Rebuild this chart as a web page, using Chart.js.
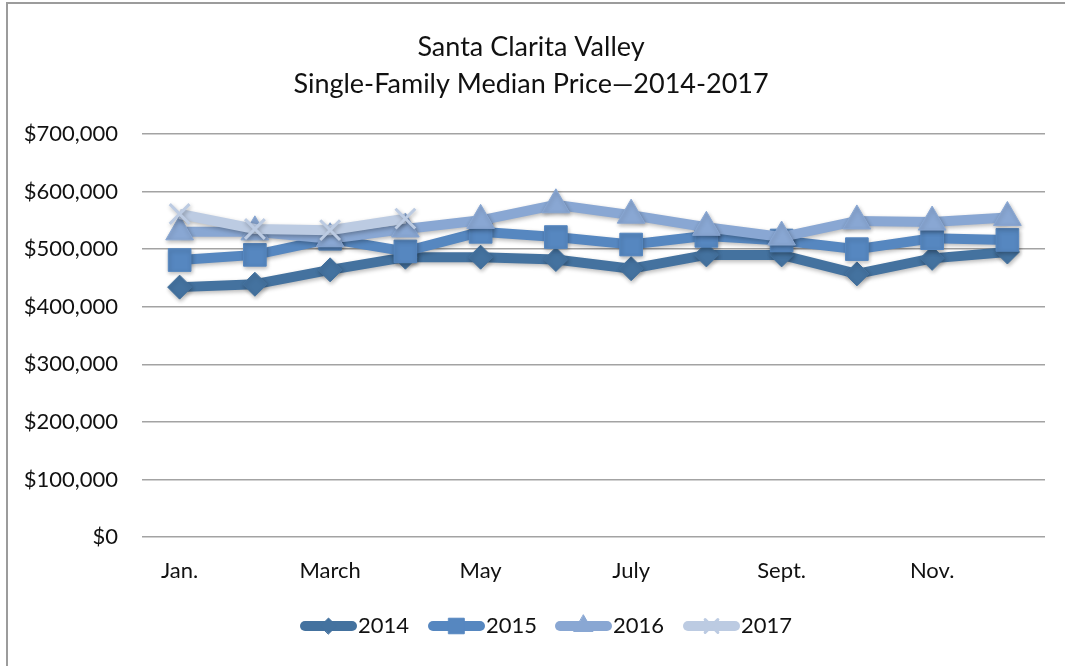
<!DOCTYPE html>
<html lang="en">
<head>
  <meta charset="UTF-8">
  <title>Santa Clarita Valley Single-Family Median Price</title>
  <script src="https://cdn.jsdelivr.net/npm/chart.js"></script>
  <style>
    html, body {
      margin: 0;
      padding: 0;
      overflow: hidden;
      background: #fff;
    }
    .frame {
      position: absolute;
      left: 6px;
      top: 2px;
      width: 1120px;
      height: 720px;
      border: 2px solid #9c9c9c;
    }
    .chart-container {
      position: absolute;
      left: 0;
      top: 0;
      width: 1065px;
      height: 666px;
    }
  </style>
</head>
<body>
  <div class="frame"></div>
  <div class="chart-container">
    <canvas id="priceChart" width="1065" height="666"></canvas>
  </div>

  <script>
    // months on the category axis
    const months = ['Jan.', 'Feb.', 'March', 'April', 'May', 'June', 'July', 'Aug.', 'Sept.', 'Oct.', 'Nov.', 'Dec.'];

    // median price per month, by year
    const years = ['2014', '2015', '2016', '2017'];
    const price2014 = [434000, 439000, 464000, 486000, 486000, 482000, 466000, 490000, 490000, 457000, 484000, 495000];
    const price2015 = [481000, 490000, 518000, 496000, 530000, 521000, 508000, 523000, 515000, 500000, 519000, 516000];
    const price2016 = [530000, 530000, 518000, 535000, 550000, 577000, 559000, 538000, 521000, 549000, 547000, 555000];
    const price2017 = [561000, 535000, 533000, 553000];

    const yTicks = [0, 100000, 200000, 300000, 400000, 500000, 600000, 700000];

    const colors = ['#44729f', '#5687c0', '#89a7d3', '#bccbe2'];
    const markers = ['rectRot', 'rect', 'triangle', 'crossRot'];
    const markerSize = [12, 16, 16, 14];
    const legendMarkerSize = [8, 11, 11, 9];

    const FONT = 'Lato, "Open Sans", sans-serif';

    function money(v) {
      return '$' + v.toLocaleString('en-US');
    }

    // soft drop shadow under each series
    const shadowPlugin = {
      id: 'seriesShadow',
      beforeDatasetDraw(chart) {
        const ctx = chart.ctx;
        ctx.save();
        ctx.shadowColor = 'rgba(0, 0, 0, 0.28)';
        ctx.shadowBlur = 4;
        ctx.shadowOffsetX = 1;
        ctx.shadowOffsetY = 2;
      },
      afterDatasetDraw(chart) {
        chart.ctx.restore();
      }
    };

    // legend drawn as a thick line sample with the series marker on it
    const lineLegend = {
      id: 'lineLegend',
      afterDraw(chart) {
        const ctx = chart.ctx;
        const startX = [300, 428, 555, 683];
        const y = 626;
        ctx.save();
        chart.data.datasets.forEach((ds, i) => {
          const x0 = startX[i];
          const x1 = x0 + 57;
          ctx.strokeStyle = ds.borderColor;
          ctx.lineWidth = 10;
          ctx.lineCap = 'round';
          ctx.beginPath();
          ctx.moveTo(x0 + 5, y);
          ctx.lineTo(x1 - 5, y);
          ctx.stroke();
          ctx.fillStyle = ds.pointBackgroundColor;
          ctx.strokeStyle = ds.pointBorderColor;
          ctx.lineWidth = ds.pointBorderWidth;
          Chart.helpers.drawPoint(ctx, {
            pointStyle: ds.pointStyle,
            radius: legendMarkerSize[i],
            rotation: 0,
            borderWidth: ds.pointBorderWidth
          }, (x0 + x1) / 2, y);
          ctx.fillStyle = '#111';
          ctx.font = '22px ' + FONT;
          ctx.textAlign = 'left';
          ctx.textBaseline = 'middle';
          ctx.fillText(ds.label, x1 + 1, y);
        });
        ctx.restore();
      }
    };

    const series = [price2014, price2015, price2016, price2017];

    const datasets = series.map((data, i) => ({
      label: years[i],
      data: data,
      borderColor: colors[i],
      backgroundColor: colors[i],
      borderWidth: 10,
      tension: 0,
      pointStyle: markers[i],
      pointRadius: markerSize[i],
      pointHoverRadius: markerSize[i],
      pointBackgroundColor: colors[i],
      pointBorderColor: colors[i],
      pointBorderWidth: i === 3 ? 3 : 1,
      order: 4 - i,
      fill: false
    }));

    const ctx = document.getElementById('priceChart').getContext('2d');
    new Chart(ctx, {
      type: 'line',
      data: {
        labels: months,
        datasets: datasets
      },
      options: {
        responsive: false,
        animation: false,
        layout: {
          padding: { left: 17, right: 20, top: 29, bottom: 0 }
        },
        plugins: {
          legend: { display: false },
          tooltip: { enabled: false },
          title: {
            display: true,
            text: ['Santa Clarita Valley', 'Single-Family Median Price\u20142014-2017'],
            color: '#111',
            font: { family: FONT, size: 27, weight: 'normal', lineHeight: 1.37 },
            padding: { top: 0, bottom: 31 }
          }
        },
        scales: {
          x: {
            offset: true,
            grid: { display: false, drawTicks: false },
            border: { display: false },
            ticks: {
              autoSkip: false,
              maxRotation: 0,
              padding: 21,
              color: '#111',
              font: { family: FONT, size: 22 },
              callback: function (value, index) {
                return index % 2 === 0 ? months[index] : '';
              }
            },
            afterFit(scale) {
              scale.height = 129;
            }
          },
          y: {
            min: 0,
            max: 700000,
            afterBuildTicks(scale) {
              scale.ticks = yTicks.map(v => ({ value: v }));
            },
            grid: {
              color: '#a3a3a3',
              lineWidth: 1.5,
              drawTicks: false
            },
            border: { display: false },
            ticks: {
              padding: 24,
              color: '#111',
              font: { family: FONT, size: 22 },
              callback: v => money(v)
            },
            afterFit(scale) {
              scale.width = 125;
            }
          }
        }
      },
      plugins: [shadowPlugin, lineLegend]
    });
  </script>
</body>
</html>
